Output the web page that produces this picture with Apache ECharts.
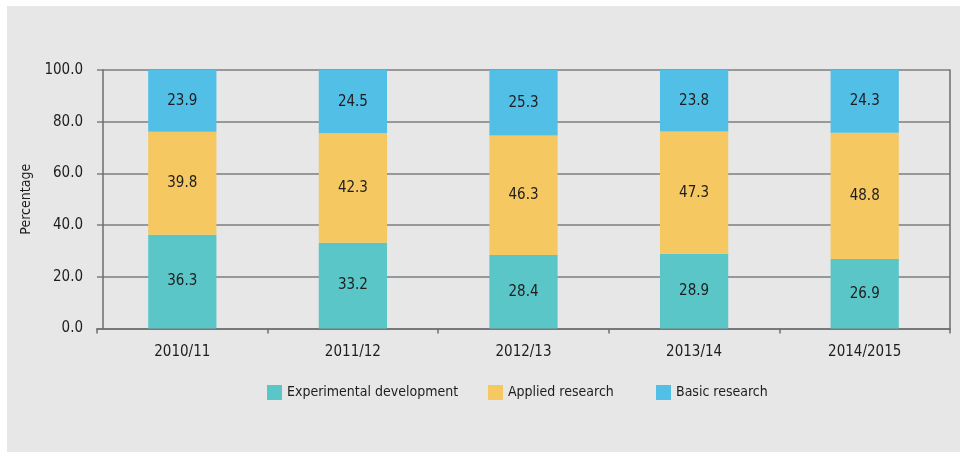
<!DOCTYPE html>
<html><head><meta charset="utf-8">
<script src="https://cdn.jsdelivr.net/npm/echarts@6/dist/echarts.min.js"></script>
<style>html,body{margin:0;padding:0;background:#fff}#c{width:967px;height:455px}</style>
</head><body><div id="c"></div>
<script>
const categories = ['2010/11','2011/12','2012/13','2013/14','2014/2015'];
const seriesNames = ['Experimental development','Applied research','Basic research'];
const experimental = [36.3, 33.2, 28.4, 28.9, 26.9];
const applied = [39.8, 42.3, 46.3, 47.3, 48.8];
const basic = [23.9, 24.5, 25.3, 23.8, 24.3];
const yTicks = [0, 20, 40, 60, 80, 100];

const FONT = "'Liberation Sans Narrow','DejaVu Sans Condensed','Roboto Condensed',sans-serif";
const TXT = '#1f1c1d';
const chart = echarts.init(document.getElementById('c'), null, {renderer:'canvas'});
function ser(name, data, color){
  return {name, type:'bar', stack:'t', data, barWidth:'40%',
    itemStyle:{color},
    label:{show:true, position:'inside', color:TXT, fontFamily:FONT, fontSize:15,
      formatter:p=>p.value.toFixed(1)}};
}
const legendLefts = [267, 488, 656];
chart.setOption({
  backgroundColor:'#fff',
  graphic:[{type:'rect', shape:{x:7,y:6,width:953,height:446}, style:{fill:'#e6e7e6'}, z:-10}],
  grid:{left:97, right:17, top:70, bottom:126.5},
  legend: seriesNames.map((n,i)=>({top:385, left:legendLefts[i], itemWidth:15, itemHeight:15, icon:'rect',
    padding:0, textStyle:{color:TXT, fontFamily:FONT, fontSize:14}, data:[n]})),
  xAxis:{type:'category', data:categories,
    axisLine:{lineStyle:{color:'#6d6e70', width:1.5}},
    axisTick:{show:true, alignWithLabel:false, length:5, lineStyle:{color:'#6d6e70', width:1.5}},
    axisLabel:{color:TXT, fontFamily:FONT, fontSize:15, margin:16}},
  yAxis:[{type:'value', min:0, max:100, interval:20, offset:-6,
    name:'Percentage', nameLocation:'middle', nameGap:70, nameRotate:90,
    nameTextStyle:{color:TXT, fontFamily:FONT, fontSize:14},
    axisLine:{show:true, lineStyle:{color:'#6d6e70', width:1.5}},
    axisTick:{show:false},
    axisLabel:{color:TXT, fontFamily:FONT, fontSize:15, margin:20,
      formatter:v=>yTicks.includes(v)?v.toFixed(1):''},
    splitLine:{show:true, lineStyle:{color:'#7d7e80', width:1.5}}},
   {type:'value', min:0, max:100, interval:20, position:'right',
    axisLine:{show:true, lineStyle:{color:'#6d6e70', width:1.5}},
    axisTick:{show:false}, axisLabel:{show:false}, splitLine:{show:false}}],
  series:[ser(seriesNames[0], experimental, '#5bc6c8'),
          ser(seriesNames[1], applied, '#f6c862'),
          ser(seriesNames[2], basic, '#52bfe6')]
});
</script></body></html>
